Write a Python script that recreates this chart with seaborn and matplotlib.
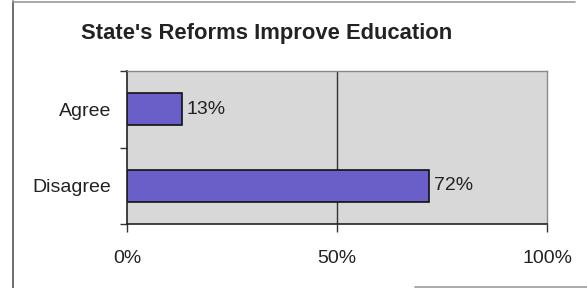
import matplotlib
matplotlib.use("Agg")
import matplotlib.pyplot as plt
import seaborn as sns
import pandas as pd
from matplotlib.lines import Line2D

categories = ["Agree", "Disagree"]
values = [13, 72]
value_labels = ["13%", "72%"]
x_ticks = [0, 50, 100]
x_tick_labels = ["0%", "50%", "100%"]
title = "State's Reforms Improve Education"

sns.set_theme(style="white")
plt.rcParams["font.family"] = ["Liberation Sans", "DejaVu Sans"]

df = pd.DataFrame({"category": categories, "value": values})

fig = plt.figure(figsize=(5.87, 2.88), dpi=100)
ax = fig.add_axes([127/587, 1-224/288, 420/587, 153/288])
ax.set_facecolor("#d8d8d8")

sns.barplot(data=df, x="value", y="category", orient="h", color="#6a5ec8",
            saturation=1, width=0.42, edgecolor="#111111", linewidth=1.2, ax=ax)

ax.set_xlim(0, 100)
ax.set_ylim(1.5, -0.5)
ax.set_xlabel("")
ax.set_ylabel("")
ax.set_xticks(x_ticks)
ax.set_xticklabels(x_tick_labels, fontsize=14, color="#222222")
ax.tick_params(axis="x", length=6, width=1, color="#333333", pad=13, direction="out", bottom=True)
ax.tick_params(axis="y", which="major", length=0, pad=11.5, labelsize=14, labelcolor="#222222")
ax.set_yticks([-0.5, 0.5, 1.5], minor=True)
ax.tick_params(axis="y", which="minor", length=5, width=1, color="#333333", left=True)

ax.axvline(50, color="#333333", linewidth=1, zorder=0.5)

for i, (v, lab) in enumerate(zip(values, value_labels)):
    ax.text(v + 1.2, i, lab, va="center", ha="left", fontsize=14, color="#222222")

for side in ["left", "bottom"]:
    ax.spines[side].set_color("#222222")
    ax.spines[side].set_linewidth(1.2)
for side in ["top", "right"]:
    ax.spines[side].set_color("#888888")
    ax.spines[side].set_linewidth(1.0)

fig.text(267/587, 1-33/288, title, ha="center", va="center", fontsize=15.8,
         fontweight="bold", color="#222222")

# outer frame lines
fig.add_artist(Line2D([13/587, 13/587], [0, 1-1/288], transform=fig.transFigure,
                      color="#555555", linewidth=1.2))
fig.add_artist(Line2D([13/587, 575/587], [1-1.5/288, 1-1.5/288], transform=fig.transFigure,
                      color="#999999", linewidth=1.2))
fig.add_artist(Line2D([415/587, 1], [1.5/288, 1.5/288], transform=fig.transFigure,
                      color="#999999", linewidth=1.2))

fig.savefig("out.png", dpi=100)
